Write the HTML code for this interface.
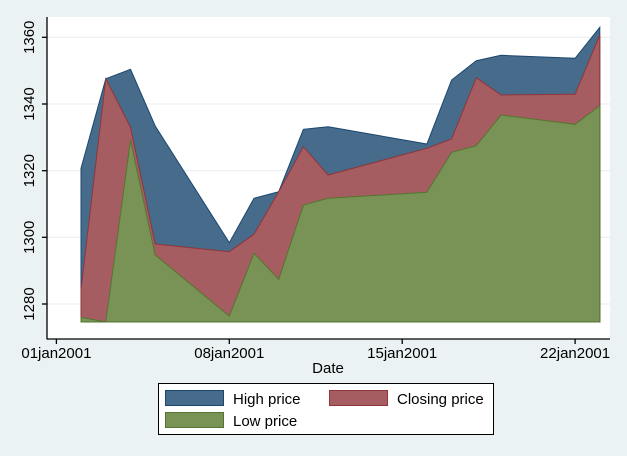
<!DOCTYPE html>
<html><head><style>body{margin:0;background:#eaf2f3}svg{display:block;font-family:"Liberation Sans",Arial,sans-serif}</style></head><body>
<svg width="627" height="456" viewBox="0 0 627 456">
<rect width="627" height="456" fill="#eaf2f3"/>
<rect x="47" y="17" width="563" height="322" fill="#fff"/>
<g stroke="#e6eef0" stroke-width="1">
<line x1="47" x2="610" y1="304" y2="304"/><line x1="47" x2="610" y1="237.3" y2="237.3"/><line x1="47" x2="610" y1="170.7" y2="170.7"/><line x1="47" x2="610" y1="104" y2="104"/><line x1="47" x2="610" y1="37.3" y2="37.3"/>
</g>
<polygon fill="#476b8a" stroke="#1a476f" stroke-width="1" points="81,322 81,168.3 105.8,78.7 130.5,69.3 155.2,126 229.3,242.7 254,198.3 278.7,191.7 303.4,129.3 328.1,126.7 426.9,144 451.6,80 476.3,60.7 501,55.3 575.1,58.3 599.8,27.3 599.8,322"/>
<polygon fill="#a55d61" stroke="#90353b" stroke-width="1" points="81,322 81,289.3 105.8,78.7 130.5,127.3 155.2,244 229.3,251.7 254,234.3 278.7,191.7 303.4,146.7 328.1,175 426.9,148.3 451.6,139 476.3,77.7 501,95 575.1,94.3 599.8,35 599.8,322"/>
<polygon fill="#789355" stroke="#55752f" stroke-width="1" points="81,322 81,317.3 105.8,322 130.5,140 155.2,255 229.3,316 254,253.3 278.7,279.3 303.4,205 328.1,198.3 426.9,192.3 451.6,152.3 476.3,145.7 501,115 575.1,124.3 599.8,105.7 599.8,322"/>
<g stroke="#000" stroke-width="1.3">
<line x1="47" y1="17" x2="47" y2="339.5"/><line x1="47" y1="339" x2="610" y2="339"/>
<line x1="42" x2="47" y1="304" y2="304"/><line x1="42" x2="47" y1="237.3" y2="237.3"/><line x1="42" x2="47" y1="170.7" y2="170.7"/><line x1="42" x2="47" y1="104" y2="104"/><line x1="42" x2="47" y1="37.3" y2="37.3"/>
<line x1="56.4" x2="56.4" y1="339" y2="344"/><line x1="229.3" x2="229.3" y1="339" y2="344"/><line x1="402.2" x2="402.2" y1="339" y2="344"/><line x1="575.1" x2="575.1" y1="339" y2="344"/>
</g>
<g font-size="15" fill="#000" text-anchor="middle">
<text transform="translate(34,304) rotate(-90)">1280</text>
<text transform="translate(34,237.3) rotate(-90)">1300</text>
<text transform="translate(34,170.7) rotate(-90)">1320</text>
<text transform="translate(34,104) rotate(-90)">1340</text>
<text transform="translate(34,37.3) rotate(-90)">1360</text>
<text x="56.4" y="358">01jan2001</text>
<text x="229.3" y="358">08jan2001</text>
<text x="402.2" y="358">15jan2001</text>
<text x="575.1" y="358">22jan2001</text>
<text x="328" y="373">Date</text>
</g>
<rect x="158.5" y="383.5" width="335" height="51" fill="#fff" stroke="#000" stroke-width="1"/>
<rect x="165.5" y="390.5" width="58" height="15" fill="#476b8a" stroke="#1a476f"/>
<rect x="329.5" y="390.5" width="58" height="15" fill="#a55d61" stroke="#90353b"/>
<rect x="165.5" y="412.5" width="58" height="15" fill="#789355" stroke="#55752f"/>
<g font-size="15" fill="#000">
<text x="233" y="404">High price</text>
<text x="397" y="404">Closing price</text>
<text x="233" y="426">Low price</text>
</g>
</svg>
</body></html>
